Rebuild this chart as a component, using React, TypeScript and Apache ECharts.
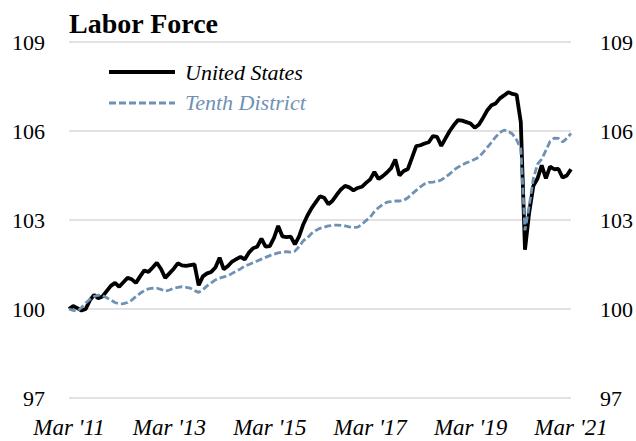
import React, { useEffect, useRef } from "react";
import * as echarts from "echarts";

const tickLabels = ["Mar '11", "Mar '13", "Mar '15", "Mar '17", "Mar '19", "Mar '21"];
const startYear = 2011;
const startMonth = 2; // March (0-based)

const unitedStates = [
  100.0, 100.1, 100.03, 99.95, 100.0, 100.3, 100.47, 100.36, 100.42, 100.6,
  100.78, 100.88, 100.75, 100.9, 101.05, 101.0, 100.88, 101.1, 101.3, 101.25,
  101.4, 101.56, 101.35, 101.05, 101.2, 101.35, 101.54, 101.47, 101.45, 101.48,
  101.5, 100.8, 101.1, 101.2, 101.25, 101.4, 101.73, 101.34, 101.45, 101.6,
  101.68, 101.76, 101.67, 101.9, 102.05, 102.1, 102.37, 102.1, 102.12, 102.4,
  102.8, 102.45, 102.42, 102.44, 102.18, 102.45, 102.85, 103.15, 103.4, 103.6,
  103.8, 103.75, 103.53, 103.65, 103.85, 104.03, 104.15, 104.1, 104.0, 104.08,
  104.12, 104.25, 104.37, 104.62, 104.38, 104.48, 104.6, 104.75, 105.04, 104.5,
  104.65, 104.72, 105.1, 105.49, 105.52, 105.58, 105.62, 105.83, 105.8, 105.5,
  105.75, 106.0, 106.2, 106.37, 106.35, 106.3, 106.25, 106.11, 106.22, 106.45,
  106.7, 106.87, 106.93, 107.1, 107.2, 107.31, 107.25, 107.22, 106.3, 102.0,
  103.25, 104.15, 104.4, 104.84, 104.4, 104.8, 104.71, 104.72, 104.43, 104.5,
  104.71,
];

const tenthDistrict = [
  100.0, 99.95, 99.93, 100.05, 100.2, 100.33, 100.42, 100.47, 100.45, 100.38,
  100.3, 100.22, 100.17, 100.18, 100.22, 100.3, 100.42, 100.53, 100.62, 100.68,
  100.7, 100.7, 100.66, 100.6, 100.64, 100.7, 100.73, 100.75, 100.73, 100.7,
  100.62, 100.56, 100.65, 100.78, 100.88, 100.98, 101.04, 101.08, 101.12, 101.2,
  101.28, 101.35, 101.45, 101.5, 101.56, 101.62, 101.68, 101.74, 101.8, 101.85,
  101.89, 101.92, 101.93, 101.92, 101.95, 102.1, 102.3, 102.4, 102.55, 102.65,
  102.72, 102.76, 102.8, 102.82, 102.83, 102.82, 102.8, 102.77, 102.75, 102.76,
  102.85, 102.98, 103.1, 103.28, 103.42, 103.52, 103.6, 103.62, 103.64, 103.64,
  103.66, 103.75, 103.88, 104.0, 104.12, 104.22, 104.27, 104.28, 104.3, 104.35,
  104.45, 104.55, 104.68, 104.78, 104.86, 104.93, 104.98, 105.05, 105.12, 105.28,
  105.45, 105.62, 105.8, 105.95, 106.03, 105.99, 105.9, 105.7, 105.4, 102.65,
  103.47, 104.4, 104.88, 105.05, 105.35, 105.65, 105.76, 105.75, 105.63, 105.75,
  105.92,
];

const yMin = 97;
const yMax = 109;
const yStep = 3;

const US_COLOR = "#000000";
const TENTH_COLOR = "#6F91B4";
const GRID_COLOR = "#D9D9D9";
const FONT = "'Liberation Serif', 'DejaVu Serif', serif";

const monthNames = ["Jan", "Feb", "Mar", "Apr", "May", "Jun", "Jul", "Aug", "Sep", "Oct", "Nov", "Dec"];
const categories = unitedStates.map((_, i) => {
  const m = startMonth + i;
  const y = startYear + Math.floor(m / 12);
  return monthNames[m % 12] + " '" + String(y).slice(2);
});

export default function App() {
  const ref = useRef<HTMLDivElement>(null);
  useEffect(() => {
    if (!ref.current) return;
    const chart = echarts.init(ref.current, null, { renderer: "svg" });
    const yAxisBase = {
      type: "value",
      min: yMin,
      max: yMax,
      interval: yStep,
      axisLine: { show: false },
      axisTick: { show: false },
      axisLabel: { fontFamily: FONT, fontSize: 22, color: "#000", margin: 24 },
    };
    chart.setOption({
      animation: false,
      backgroundColor: "#fff",
      title: {
        text: "Labor Force",
        left: 64,
        top: 4,
        textStyle: { fontFamily: FONT, fontWeight: "bold", fontSize: 28, color: "#000" },
      },
      grid: { left: 69, right: 55, top: 42, bottom: 43, containLabel: false },
      xAxis: {
        type: "category",
        data: categories,
        boundaryGap: false,
        axisLine: { show: false },
        axisTick: { show: false },
        splitLine: { show: false },
        axisLabel: {
          interval: (i: number) => i % 24 === 0,
          formatter: (_v: string, i: number) => tickLabels[i / 24] ?? "",
          fontFamily: FONT,
          fontStyle: "italic",
          fontSize: 23,
          color: "#000",
          margin: 18,
          showMaxLabel: true,
        },
      },
      yAxis: [
        { ...yAxisBase, position: "left", splitLine: { show: true, lineStyle: { color: GRID_COLOR, width: 1.5 } } },
        { ...yAxisBase, position: "right", axisLabel: { ...yAxisBase.axisLabel, margin: 29 }, splitLine: { show: false } },
      ],
      graphic: [
        { type: "line", shape: { x1: 109, y1: 72, x2: 175, y2: 72 }, style: { stroke: US_COLOR, lineWidth: 3.8 } },
        {
          type: "text",
          x: 185,
          y: 72,
          style: { text: "United States", fontFamily: FONT, fontStyle: "italic", fontSize: 22, fill: "#000", verticalAlign: "middle" },
        },
        { type: "line", shape: { x1: 109, y1: 103, x2: 175, y2: 103 }, style: { stroke: TENTH_COLOR, lineWidth: 2.8, lineDash: [7, 3] } },
        {
          type: "text",
          x: 185,
          y: 102,
          style: { text: "Tenth District", fontFamily: FONT, fontStyle: "italic", fontSize: 22, fill: TENTH_COLOR, verticalAlign: "middle" },
        },
      ],
      series: [
        {
          name: "Tenth District",
          type: "line",
          data: tenthDistrict,
          symbol: "none",
          lineStyle: { color: TENTH_COLOR, width: 2.8, type: [7, 3] },
          z: 2,
        },
        {
          name: "United States",
          type: "line",
          data: unitedStates,
          symbol: "none",
          lineStyle: { color: US_COLOR, width: 3.8 },
          z: 1,
        },
      ],
    });
    return () => chart.dispose();
  }, []);
  return <div ref={ref} style={{ width: 636, height: 441, position: "fixed", left: 0, top: 0 }} />;
}
